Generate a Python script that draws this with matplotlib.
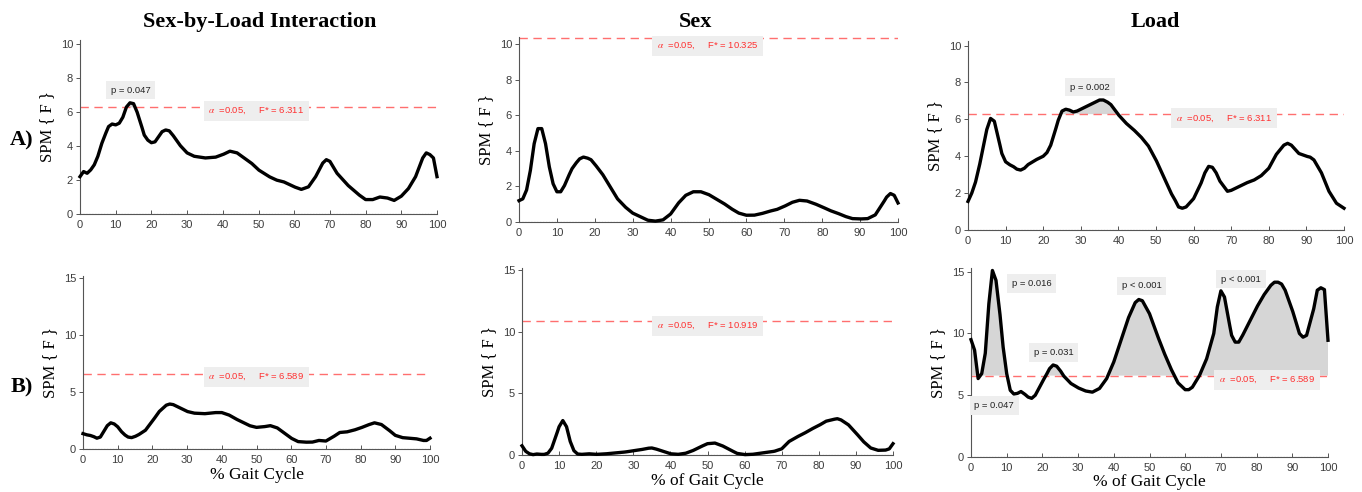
import matplotlib.pyplot as plt
import numpy as np

plt.rcParams['mathtext.fontset'] = 'stix'

# --- data ---
# A) Sex-by-Load interaction
a1_x = [0, 1, 2, 3, 4, 5, 6, 7, 8, 9, 10, 11, 12, 13, 14, 15, 16, 17, 18, 19, 20, 21, 22, 23, 24, 25, 26,
        28, 30, 32, 35, 38, 40, 42, 44, 46, 48, 50, 53, 55, 57, 60, 62, 64, 66, 68, 69, 70, 72, 75, 78,
        80, 82, 84, 86, 88, 90, 92, 94, 96, 97, 98, 99, 100]
a1_y = [2.2, 2.5, 2.4, 2.6, 2.9, 3.4, 4.1, 4.65, 5.15, 5.3, 5.25, 5.35, 5.7, 6.3, 6.55, 6.5, 6.0, 5.35,
        4.65, 4.35, 4.2, 4.25, 4.55, 4.85, 4.95, 4.9, 4.65, 4.05, 3.6, 3.4, 3.3, 3.35, 3.5, 3.7, 3.6,
        3.3, 3.0, 2.6, 2.2, 2.0, 1.9, 1.6, 1.45, 1.6, 2.2, 3.0, 3.2, 3.1, 2.4, 1.7, 1.15, 0.85, 0.85,
        1.0, 0.95, 0.8, 1.05, 1.5, 2.2, 3.3, 3.6, 3.5, 3.3, 2.2]
# A) Sex
a2_x = [0, 1, 2, 3, 4, 5, 6, 7, 8, 9, 10, 11, 12, 13, 14, 15, 16, 17, 18, 19, 20, 22, 24, 26, 28, 30, 32,
        34, 36, 38, 40, 42, 44, 46, 48, 50, 52, 54, 56, 58, 60, 62, 64, 66, 68, 70, 72, 74, 76, 78, 80,
        82, 84, 86, 88, 90, 92, 94, 96, 97, 98, 99, 100]
a2_y = [1.2, 1.3, 1.8, 2.9, 4.4, 5.25, 5.25, 4.4, 3.1, 2.15, 1.7, 1.7, 2.05, 2.55, 3.0, 3.3, 3.55, 3.65,
        3.6, 3.5, 3.25, 2.7, 2.0, 1.3, 0.85, 0.5, 0.3, 0.1, 0.05, 0.12, 0.45, 1.05, 1.5, 1.7, 1.7, 1.55,
        1.3, 1.05, 0.75, 0.5, 0.38, 0.38, 0.47, 0.6, 0.7, 0.88, 1.1, 1.22, 1.18, 1.03, 0.85, 0.65, 0.5,
        0.32, 0.19, 0.17, 0.19, 0.4, 1.05, 1.4, 1.6, 1.5, 1.07]
# A) Load
a3_x = [0, 1, 2, 3, 4, 5, 6, 7, 8, 9, 10, 11, 12, 13, 14, 15, 16, 18, 20, 21, 22, 23, 24, 25, 26, 27, 28,
        29, 30, 32, 34, 35, 36, 37, 38, 40, 42, 44, 46, 48, 50, 52, 54, 55, 56, 57, 58, 60, 62, 63, 64,
        65, 66, 67, 69, 70, 72, 74, 76, 78, 80, 82, 84, 85, 86, 88, 90, 91, 92, 94, 96, 98, 100]
a3_y = [1.55, 2.0, 2.6, 3.45, 4.45, 5.45, 6.05, 5.9, 5.05, 4.15, 3.7, 3.55, 3.45, 3.3, 3.25, 3.35, 3.55,
        3.8, 4.0, 4.2, 4.6, 5.25, 5.95, 6.45, 6.55, 6.5, 6.4, 6.45, 6.55, 6.75, 6.95, 7.05, 7.05, 6.95,
        6.8, 6.25, 5.8, 5.45, 5.05, 4.55, 3.8, 2.9, 2.0, 1.65, 1.25, 1.18, 1.25, 1.7, 2.55, 3.1, 3.45,
        3.4, 3.1, 2.65, 2.1, 2.15, 2.35, 2.55, 2.7, 2.95, 3.35, 4.1, 4.6, 4.7, 4.6, 4.15, 4.0, 3.95, 3.8,
        3.1, 2.1, 1.45, 1.18]
# B) Sex-by-Load interaction
b1_x = [0, 1, 2, 3, 4, 5, 6, 7, 8, 9, 10, 11, 12, 13, 14, 15, 16, 18, 20, 22, 24, 25, 26, 28, 30, 32, 35,
        38, 40, 42, 44, 46, 48, 50, 52, 54, 56, 58, 60, 62, 64, 66, 68, 70, 72, 74, 76, 78, 80, 82, 84,
        86, 88, 90, 92, 94, 96, 98, 99, 100]
b1_y = [1.35, 1.25, 1.2, 1.1, 0.95, 1.05, 1.55, 2.05, 2.3, 2.2, 1.95, 1.55, 1.25, 1.05, 1.0, 1.1, 1.25,
        1.65, 2.45, 3.3, 3.85, 3.95, 3.9, 3.6, 3.3, 3.15, 3.1, 3.2, 3.2, 3.0, 2.65, 2.35, 2.05, 1.9,
        1.95, 2.05, 1.85, 1.4, 0.95, 0.65, 0.6, 0.6, 0.75, 0.7, 1.05, 1.45, 1.5, 1.65, 1.85, 2.1, 2.3,
        2.15, 1.7, 1.2, 1.0, 0.95, 0.9, 0.75, 0.75, 0.95]
# B) Sex
b2_x = [0, 1, 2, 3, 4, 5, 6, 7, 8, 9, 10, 11, 12, 13, 14, 15, 16, 18, 20, 22, 25, 28, 30, 32, 34, 35, 36,
        38, 40, 42, 44, 46, 48, 50, 52, 54, 56, 58, 60, 62, 64, 66, 68, 70, 72, 74, 76, 78, 80, 82, 84,
        85, 86, 88, 90, 92, 94, 96, 98, 99, 100]
b2_y = [0.75, 0.3, 0.1, 0.03, 0.08, 0.05, 0.05, 0.15, 0.55, 1.4, 2.3, 2.8, 2.3, 1.1, 0.35, 0.08, 0.05,
        0.1, 0.05, 0.08, 0.16, 0.25, 0.35, 0.43, 0.55, 0.57, 0.5, 0.3, 0.1, 0.05, 0.13, 0.35, 0.65,
        0.92, 0.97, 0.75, 0.43, 0.13, 0.03, 0.05, 0.13, 0.22, 0.3, 0.5, 1.1, 1.45, 1.75, 2.1, 2.4,
        2.75, 2.9, 2.95, 2.85, 2.45, 1.8, 1.1, 0.57, 0.38, 0.4, 0.5, 0.92]
# B) Load
b3_x = [0, 1, 2, 3, 4, 5, 6, 7, 8, 9, 10, 11, 12, 13, 14, 15, 16, 17, 18, 19, 20, 21, 22, 23, 24, 25, 26,
        28, 30, 32, 34, 36, 38, 40, 42, 44, 46, 47, 48, 50, 52, 54, 56, 58, 60, 61, 62, 64, 66, 68, 69,
        70, 71, 72, 73, 74, 75, 76, 78, 80, 82, 84, 85, 86, 87, 88, 90, 92, 93, 94, 96, 97, 98, 99, 100]
b3_y = [9.5, 8.65, 6.35, 6.75, 8.4, 12.4, 15.1, 14.3, 11.9, 8.9, 6.75, 5.4, 5.1, 5.15, 5.3, 5.1, 4.85,
        4.75, 5.0, 5.55, 6.1, 6.6, 7.15, 7.45, 7.35, 7.0, 6.55, 5.95, 5.6, 5.35, 5.25, 5.55, 6.35, 7.7,
        9.45, 11.2, 12.5, 12.75, 12.65, 11.6, 10.0, 8.5, 7.15, 6.0, 5.45, 5.45, 5.65, 6.6, 7.95, 10.0,
        12.15, 13.45, 12.95, 11.35, 9.85, 9.3, 9.3, 9.8, 10.95, 12.1, 13.1, 13.9, 14.15, 14.15, 14.0,
        13.5, 11.9, 10.0, 9.7, 9.85, 12.0, 13.5, 13.7, 13.55, 9.45]

thresholds = [6.311, 10.325, 6.311, 6.589, 10.919, 6.589]
col_titles = ['Sex-by-Load Interaction', 'Sex', 'Load']
row_labels = ['A)', 'B)']
x_labels = ['% Gait Cycle', '% of Gait Cycle', '% of Gait Cycle']

# p-value labels: (panel index, x, y, text)
p_labels = [(0, 14.2, 7.3, 'p = 0.047'),
            (2, 32.4, 7.75, 'p = 0.002'),
            (5, 16.9, 14.05, 'p = 0.016'),
            (5, 6.5, 4.15, 'p = 0.047'),
            (5, 23.1, 8.45, 'p = 0.031'),
            (5, 47.8, 13.85, 'p < 0.001'),
            (5, 75.6, 14.4, 'p < 0.001')]
# threshold label position per panel
thr_label_pos = [(49.4, 6.05), (49.8, 9.9), (68.0, 6.05), (50.0, 6.3), (50.0, 10.5), (83.0, 6.27)]

curves = [(a1_x, a1_y), (a2_x, a2_y), (a3_x, a3_y), (b1_x, b1_y), (b2_x, b2_y), (b3_x, b3_y)]

# axes boxes in pixels: left, right, y=0 pixel, top pixel, ylim top, ytick step
boxes = [(80, 437, 214, 40, 10.25, 2),
         (519, 898, 222, 37, 10.4, 2),
         (968, 1344, 230, 41, 10.25, 2),
         (83, 430, 449, 276, 15.2, 5),
         (522, 893, 455, 268, 15.2, 5),
         (971, 1328, 457, 268, 15.3, 5)]
title_x = [260, 695, 1155]
xlabel_y = [475, 481, 482]

W, H = 1362, 492
fig = plt.figure(figsize=(W / 100, H / 100), dpi=100)

sans = 'Liberation Sans'
serif = 'Liberation Serif'
tick_col = '#3c3c3c'

for i, (xs, ys) in enumerate(curves):
    l, r, y0, yt, ytop, step = boxes[i]
    ax = fig.add_axes([l / W, (H - y0) / H, (r - l) / W, (y0 - yt) / H])
    xs = np.array(xs, dtype=float)
    ys = np.array(ys, dtype=float)
    xf = np.linspace(0, 100, 801)
    yf = np.interp(xf, xs, ys)
    thr = thresholds[i]
    ax.fill_between(xf, thr, yf, where=yf > thr, interpolate=True, color='#d6d6d6', lw=0, zorder=1)
    ax.axhline(thr, color='#ff6f6f', lw=1.0, ls=(0, (6, 4)), zorder=2)
    ax.axhline(0, color='#555555', lw=0.8, ls=':', zorder=2)
    ax.plot(xf, yf, color='black', lw=2.4, zorder=3, solid_joinstyle='round', clip_on=False)

    tx, ty = thr_label_pos[i]
    ax.text(tx, ty, r'$\alpha$  =0.05,     F* = %.3f' % thr, color='#ff3030', fontsize=6.8,
            family=sans, ha='center', va='center', zorder=4,
            bbox=dict(facecolor='#eeeeee', edgecolor='none', pad=3.5))

    ax.set_xlim(0, 100)
    ax.set_ylim(0, ytop)
    ax.set_xticks(np.arange(0, 101, 10))
    ax.set_yticks(np.arange(0, ytop, step))
    ax.spines['top'].set_visible(False)
    ax.spines['right'].set_visible(False)
    for s in ['left', 'bottom']:
        ax.spines[s].set_color('#555555')
        ax.spines[s].set_linewidth(0.8)
    ax.tick_params(axis='y', direction='out', length=3, width=0.7, color='#555555',
                   labelsize=8, labelcolor=tick_col, pad=2)
    ax.tick_params(axis='x', direction='in', length=3, width=0.7, color='#555555',
                   labelsize=8, labelcolor=tick_col, pad=4)
    for lab in ax.get_xticklabels() + ax.get_yticklabels():
        lab.set_family(sans)
    ax.set_ylabel('SPM { F }', family=serif, fontsize=12, labelpad=4)

    if i < 3:
        fig.text(title_x[i] / W, 1 - 22 / H, col_titles[i], family=serif, fontsize=16,
                 fontweight='bold', ha='center', va='center')
    else:
        fig.text((l + r) / 2 / W, 1 - xlabel_y[i - 3] / H, x_labels[i - 3], family=serif,
                 fontsize=12.5, ha='center', va='center')

    for (k, px, py, txt) in p_labels:
        if k == i:
            ax.text(px, py, txt, color='#222222', fontsize=6.8, family=sans, ha='center',
                    va='center', zorder=4,
                    bbox=dict(facecolor='#eeeeee', edgecolor='none', pad=3.5))

fig.text(22 / W, 1 - 140 / H, row_labels[0], family=serif, fontsize=16, fontweight='bold',
         ha='center', va='center')
fig.text(22 / W, 1 - 387 / H, row_labels[1], family=serif, fontsize=16, fontweight='bold',
         ha='center', va='center')

fig.savefig('out.png', dpi=100)
